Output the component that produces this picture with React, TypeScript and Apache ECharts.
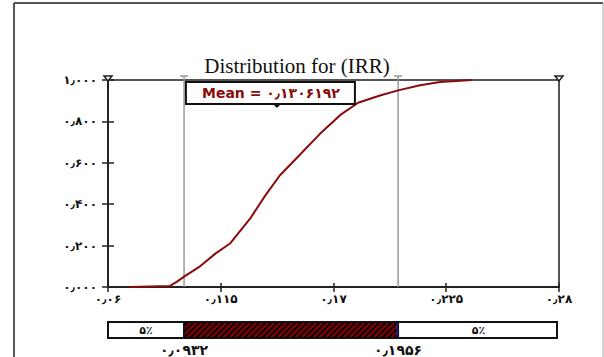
import React, { useEffect, useRef } from "react";
import * as echarts from "echarts";

// ---- data ----
const TITLE = "Distribution for (IRR)";
const X_TICKS = [0.06, 0.115, 0.17, 0.225, 0.28];
const X_TICK_LABELS = ["۰٫۰۶", "۰٫۱۱۵", "۰٫۱۷", "۰٫۲۲۵", "۰٫۲۸"];
const Y_TICK_LABELS = ["۰٫۰۰۰", "۰٫۲۰۰", "۰٫۴۰۰", "۰٫۶۰۰", "۰٫۸۰۰", "۱٫۰۰۰"];
const IRR = [0.0707, 0.0902, 0.0935, 0.0971, 0.1049, 0.1122, 0.1195, 0.1293, 0.1366, 0.1439, 0.1537, 0.1634, 0.1732, 0.182, 0.1927, 0.2015, 0.2122, 0.222, 0.2376];
const CUM_PROB = [0.0, 0.005, 0.025, 0.05, 0.1, 0.16, 0.21, 0.33, 0.44, 0.54, 0.64, 0.74, 0.83, 0.89, 0.925, 0.95, 0.975, 0.99, 1.0];
const P5 = 0.0971;
const P95 = 0.2015;
const P5_LABEL = "۰٫۰۹۳۲";
const P95_LABEL = "۰٫۱۹۵۶";
const TAIL_LABEL = "۵٪";
const MEAN = 0.1424;
const MEAN_LABEL = "Mean = ۰٫۱۳۰۶۱۹۲";

const RED = "#8b0a0a";
const FONT = "DejaVu Sans";

export default function App() {
  const ref = useRef<HTMLDivElement>(null);
  useEffect(() => {
    const el = ref.current!;
    const chart = echarts.init(el, null, { renderer: "svg" });
    const data = IRR.map((x, i) => [x, CUM_PROB[i]]);
    const labelFor = (v: number) => {
      const i = X_TICKS.findIndex((t) => Math.abs(t - v) < 1e-6);
      return i >= 0 ? X_TICK_LABELS[i] : "";
    };
    const xCommon = {
      type: "value",
      min: 0.06,
      max: 0.28,
      splitLine: { show: false },
    };
    const yCommon = {
      type: "value",
      min: 0,
      max: 1,
      interval: 0.2,
      splitLine: { show: false },
    };
    chart.setOption({
      animation: false,
      backgroundColor: "#fff",
      grid: {
        left: 108,
        right: 45,
        top: 80,
        bottom: 70,
        show: true,
        borderColor: "#555",
        borderWidth: 2,
        backgroundColor: "transparent",
      },
      title: {
        text: TITLE,
        left: 292,
        textAlign: "center",
        top: 50,
        textStyle: { fontFamily: "Liberation Serif", fontSize: 21, fontWeight: "normal", color: "#111" },
      },
      xAxis: [
        {
          ...xCommon,
          axisLine: { show: true, lineStyle: { color: "#222", width: 2 } },
          axisTick: { show: true, length: 5, customValues: X_TICKS, lineStyle: { color: "#222", width: 1.5 } },
          axisLabel: {
            customValues: X_TICKS,
            formatter: (v: number) => labelFor(v),
            margin: 6,
            fontFamily: FONT,
            fontSize: 12,
            fontWeight: "bold",
            color: "#111",
          },
        },
        {
          ...xCommon,
          position: "bottom",
          axisLine: { show: false },
          axisTick: { show: true, inside: true, length: 4, customValues: X_TICKS, lineStyle: { color: "#222", width: 1.5 } },
          axisLabel: { show: false },
        },
      ],
      yAxis: [
        {
          ...yCommon,
          axisLine: { show: true, lineStyle: { color: "#222", width: 2 } },
          axisTick: { show: true, length: 6, lineStyle: { color: "#222", width: 1.5 } },
          axisLabel: {
            formatter: (v: number) => Y_TICK_LABELS[Math.round(v / 0.2)],
            margin: 11,
            fontFamily: FONT,
            fontSize: 12,
            fontWeight: "bold",
            color: "#111",
          },
        },
        {
          ...yCommon,
          position: "left",
          axisLine: { show: false },
          axisTick: { show: true, inside: true, length: 6, lineStyle: { color: "#222", width: 1.5 } },
          axisLabel: { show: false },
        },
      ],
      series: [
        {
          type: "line",
          data,
          showSymbol: false,
          lineStyle: { color: RED, width: 2 },
          z: 3,
        },
      ],
    });

    const pt = (x: number, y: number) => chart.convertToPixel({ gridIndex: 0 }, [x, y]) as number[];
    const [xL, yTop] = pt(0.06, 1);
    const [xR, yBot] = pt(0.28, 0);
    const x5 = pt(P5, 0)[0];
    const x95 = pt(P95, 0)[0];
    const xMean = pt(MEAN, 0)[0];

    const canvas = document.createElement("canvas");
    canvas.width = 6;
    canvas.height = 6;
    const ctx = canvas.getContext("2d")!;
    ctx.fillStyle = "#7a0000";
    ctx.fillRect(0, 0, 6, 6);
    ctx.strokeStyle = "#000";
    ctx.lineWidth = 1.6;
    ctx.beginPath();
    ctx.moveTo(-1, 7); ctx.lineTo(7, -1);
    ctx.moveTo(-1, 1); ctx.lineTo(1, -1);
    ctx.moveTo(5, 7); ctx.lineTo(7, 5);
    ctx.stroke();

    const barTop = 322;
    const barH = 16;
    const vline = (x: number, color: string) => [
      { type: "line", shape: { x1: x - 4, y1: yTop - 4, x2: x + 4, y2: yTop - 4 }, style: { stroke: color, lineWidth: 1.5 } },
      { type: "line", shape: { x1: x, y1: yTop - 4, x2: x, y2: yBot }, style: { stroke: color, lineWidth: 1.5 }, z: 1 },
    ];
    const tri = (x: number) => ({
      type: "polygon",
      shape: { points: [[x - 4, yTop - 4], [x + 4, yTop - 4], [x, yTop + 1]] },
      style: { fill: "#fff", stroke: "#222", lineWidth: 1.5 },
      z: 10,
    });
    const txt = (x: number, y: number, text: string, size: number, fill = "#111") => ({
      type: "text",
      x,
      y,
      style: { text, fill, font: `bold ${size}px "${FONT}"`, textAlign: "center", textVerticalAlign: "middle" },
      z: 21,
    });

    chart.setOption({
      graphic: [
        // outer frame
        { type: "line", shape: { x1: 14, y1: 3, x2: 14, y2: 357 }, style: { stroke: "#555", lineWidth: 2 } },
        { type: "line", shape: { x1: 14, y1: 3, x2: 603, y2: 3 }, style: { stroke: "#555", lineWidth: 2 } },
        { type: "line", shape: { x1: 603, y1: 3, x2: 603, y2: 357 }, style: { stroke: "#aaa", lineWidth: 1 } },
        ...vline(x5, "#9a9a9a"),
        ...vline(x95, "#9a9a9a"),
        tri(xL),
        tri(xR),
        // mean box
        {
          type: "rect",
          shape: { x: xMean - 91, y: 82, width: 169, height: 22 },
          style: { fill: "#fff", stroke: "#111", lineWidth: 2 },
          z: 20,
        },
        {
          type: "polygon",
          shape: { points: [[xMean - 4, 104], [xMean + 4, 104], [xMean, 108]] },
          style: { fill: "#111" },
          z: 20,
        },
        txt(xMean - 6, 93, MEAN_LABEL, 14, RED),
        // bottom bar
        { type: "rect", shape: { x: xL, y: barTop, width: x5 - xL, height: barH }, style: { fill: "#fff", stroke: "#111", lineWidth: 2 } },
        { type: "rect", shape: { x: x5, y: barTop, width: x95 - x5, height: barH }, style: { fill: { image: canvas, repeat: "repeat" } as any, stroke: "#111", lineWidth: 2 } },
        { type: "rect", shape: { x: x95, y: barTop, width: xR - 2 - x95, height: barH }, style: { fill: "#fff", stroke: "#111", lineWidth: 2 } },
        { type: "line", shape: { x1: x95 - 1, y1: barTop + 1, x2: x95 - 1, y2: barTop + barH - 1 }, style: { stroke: "#1a2bd0", lineWidth: 1 } },
        txt((xL + x5) / 2, barTop + barH / 2, TAIL_LABEL, 11),
        txt((x95 + xR) / 2, barTop + barH / 2, TAIL_LABEL, 11),
        txt(x5, 350, P5_LABEL, 14),
        txt(x95, 350, P95_LABEL, 14),
      ],
    });
    return () => chart.dispose();
  }, []);
  return (
    <div
      ref={ref}
      style={{ position: "fixed", left: 0, top: 0, width: 604, height: 357, background: "#fff" }}
    />
  );
}
